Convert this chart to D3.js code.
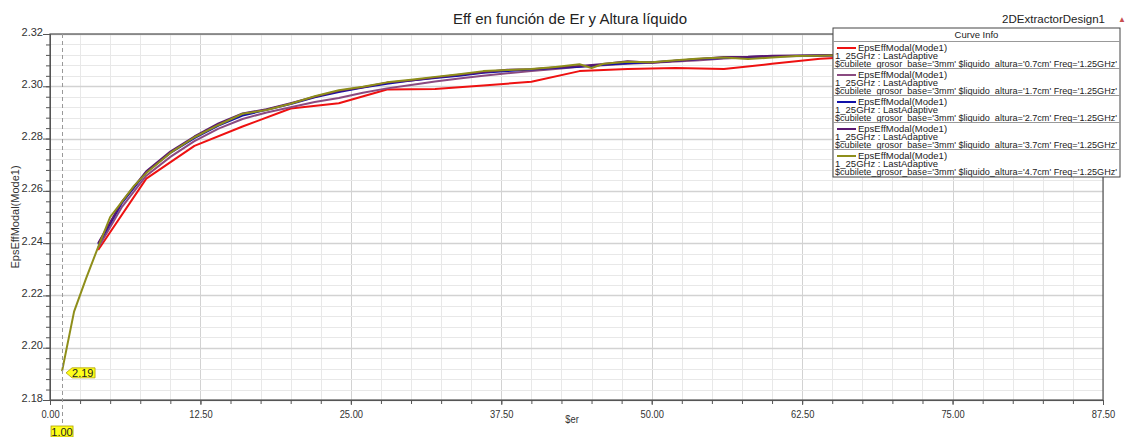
<!DOCTYPE html>
<html>
<head>
<meta charset="utf-8">
<script src="https://cdn.jsdelivr.net/npm/d3@7"></script>
<style>
  body { margin: 0; background: #fff; }
  svg { display: block; font-family: "Liberation Sans", Arial, sans-serif; }
</style>
</head>
<body>
<figure id="chart" style="margin:0"></figure>
<script>
// values
const seriesNames = ["0.7cm", "1.7cm", "2.7cm", "3.7cm", "4.7cm"];
const seriesColors = ["#ee1111", "#8a4a80", "#1010a8", "#5a1870", "#8e8e1a"];

const erRed = [4, 8, 12, 16, 20, 24, 28, 32, 36, 40, 44, 48, 52, 56, 60, 64, 68, 72, 76, 80];
const epsRed = [2.2374, 2.2647, 2.2772, 2.2846, 2.2915, 2.2935, 2.2988, 2.2990, 2.3003, 2.3017,
  2.3058, 2.3066, 2.3070, 2.3066, 2.3086, 2.3105, 2.3115, 2.3120, 2.3125, 2.3128];

const erMid = [4, 6, 8, 10, 12, 14, 16, 18, 20, 22, 24, 26, 28, 30, 32, 34, 36, 38, 40, 42,
  44, 46, 48, 50, 52, 54, 56, 58, 60, 64, 68, 72, 76, 80];
const epsMauve = [2.2382, 2.2540, 2.2658, 2.2730, 2.2790, 2.2838, 2.2875, 2.2900, 2.2920, 2.2940,
  2.2955, 2.2975, 2.2992, 2.3005, 2.3018, 2.3030, 2.3040, 2.3050, 2.3058, 2.3066,
  2.3075, 2.3080, 2.3086, 2.3090, 2.3095, 2.3100, 2.3106, 2.3110, 2.3114, 2.3117, 2.3120, 2.3123, 2.3126, 2.3128];
const epsBlue = [2.2395, 2.2555, 2.2672, 2.2745, 2.2802, 2.2850, 2.2888, 2.2910, 2.2932, 2.2958,
  2.2978, 2.2995, 2.3010, 2.3022, 2.3032, 2.3040, 2.3052, 2.3058, 2.3064, 2.3070,
  2.3075, 2.3082, 2.3088, 2.3092, 2.3098, 2.3104, 2.3108, 2.3112, 2.3115, 2.3118, 2.3121, 2.3124, 2.3127, 2.3129];
const epsPurple = [2.2400, 2.2560, 2.2675, 2.2750, 2.2808, 2.2858, 2.2896, 2.2912, 2.2935, 2.2960,
  2.2982, 2.2996, 2.3014, 2.3022, 2.3034, 2.3044, 2.3054, 2.3063, 2.3065, 2.3072,
  2.3078, 2.3085, 2.3096, 2.3090, 2.3098, 2.3104, 2.3112, 2.3113, 2.3117, 2.3119, 2.3122, 2.3125, 2.3128, 2.3130];

const erOlive = [1, 2, 3, 4, 5, 6, 7, 8, 10, 12, 14, 16, 18, 20, 22, 24, 26, 28, 30, 32, 34, 36, 38, 40,
  42, 44, 45, 46, 48, 50, 52, 54, 56, 58, 60, 62, 64, 66, 68, 72, 76, 80];
const epsOlive = [2.1910, 2.2138, 2.2265, 2.2385, 2.2500, 2.2560, 2.2620, 2.2668, 2.2745, 2.2805,
  2.2852, 2.2895, 2.2909, 2.2933, 2.2962, 2.2985, 2.2998, 2.3015, 2.3025, 2.3036, 2.3046, 2.3058,
  2.3062, 2.3066, 2.3074, 2.3084, 2.3070, 2.3086, 2.3094, 2.3092, 2.3100, 2.3106, 2.3110, 2.3104,
  2.3110, 2.3116, 2.3117, 2.3120, 2.3122, 2.3126, 2.3128, 2.3130];

const xMajorTicks = [0, 12.5, 25, 37.5, 50, 62.5, 75, 87.5];
const yMajorTicks = [2.18, 2.20, 2.22, 2.24, 2.26, 2.28, 2.30, 2.32];
const markerEr = 1.00;
const markerEps = 2.19;

const series = [
  { er: erRed, eps: epsRed },
  { er: erMid, eps: epsMauve },
  { er: erMid, eps: epsBlue },
  { er: erMid, eps: epsPurple },
  { er: erOlive, eps: epsOlive }
];

const width = 1129, height = 437;
const plotLeft = 50, plotRight = 1103, plotTop = 34, plotBottom = 400;

const svg = d3.select("figure#chart").append("svg")
  .attr("width", width).attr("height", height);

const x = d3.scaleLinear().domain([0, 87.5]).range([plotLeft, plotRight]);
const y = d3.scaleLinear().domain([2.18, 2.32]).range([plotBottom, plotTop]);

// grid
const xMinor = d3.range(0, 87.51, 2.5);
const yMinor = d3.range(0, 36).map(i => 2.18 + i * 0.004);

svg.append("g").selectAll("line").data(xMinor).enter().append("line")
  .attr("x1", d => Math.round(x(d)) + 0.5).attr("x2", d => Math.round(x(d)) + 0.5)
  .attr("y1", plotTop).attr("y2", plotBottom)
  .attr("stroke", (d, i) => i % 5 === 0 ? "#d2d2d2" : "#e8e8e8")
  .attr("stroke-width", 1);

svg.append("g").selectAll("line").data(yMinor).enter().append("line")
  .attr("x1", plotLeft).attr("x2", plotRight)
  .attr("y1", d => Math.round(y(d)) + 0.5).attr("y2", d => Math.round(y(d)) + 0.5)
  .attr("stroke", (d, i) => i % 5 === 0 ? "#d2d2d2" : "#e8e8e8")
  .attr("stroke-width", (d, i) => i % 5 === 0 ? 1.5 : 1);

// frame
svg.append("rect")
  .attr("x", plotLeft).attr("y", plotTop)
  .attr("width", plotRight - plotLeft).attr("height", plotBottom - plotTop)
  .attr("fill", "none").attr("stroke", "#555").attr("stroke-width", 1.2);

svg.append("clipPath").attr("id", "clip").append("rect")
  .attr("x", plotLeft).attr("y", plotTop).attr("width", plotRight - plotLeft).attr("height", plotBottom - plotTop);

// curves
const line = d3.line().x(d => x(d[0])).y(d => y(d[1]));
svg.append("g").attr("clip-path", "url(#clip)")
  .selectAll("path").data(series).enter().append("path")
  .attr("d", s => line(s.er.map((e, i) => [e, s.eps[i]])))
  .attr("fill", "none")
  .attr("stroke", (s, i) => seriesColors[i])
  .attr("stroke-width", 2)
  .attr("stroke-linejoin", "round");

// axes
const xAxis = svg.append("g")
  .attr("transform", "translate(0," + plotBottom + ")")
  .call(d3.axisBottom(x).tickValues(xMajorTicks).tickFormat(d3.format(".2f")).tickSize(5));
xAxis.select(".domain").attr("stroke", "#555");
xAxis.selectAll("text").attr("font-size", 11).attr("fill", "#333")
  .attr("dy", "0.9em")
  .attr("transform", "scale(0.85,1)");
svg.append("g")
  .attr("transform", "translate(0," + plotBottom + ")")
  .call(d3.axisBottom(x).tickValues(xMinor).tickFormat("").tickSize(4))
  .select(".domain").remove();

const yAxis = svg.append("g")
  .attr("transform", "translate(" + plotLeft + ",0)")
  .call(d3.axisLeft(y).tickValues(yMajorTicks).tickFormat(d3.format(".2f")).tickSize(7));
yAxis.select(".domain").attr("stroke", "#555");
yAxis.selectAll("text").attr("font-size", 11).attr("fill", "#333").attr("x", -7).attr("dy", "0.1em");
svg.append("g")
  .attr("transform", "translate(" + plotLeft + ",0)")
  .call(d3.axisLeft(y).tickValues(yMinor).tickFormat("").tickSize(4))
  .select(".domain").remove();
svg.selectAll(".tick line").attr("stroke", "#555");

svg.append("text")
  .attr("transform", "translate(572,423) scale(0.85,1)")
  .attr("text-anchor", "middle")
  .attr("font-size", 11).attr("fill", "#333")
  .text("$er");

svg.append("text")
  .attr("transform", "translate(19,217) rotate(-90)")
  .attr("text-anchor", "middle")
  .attr("font-size", 11).attr("fill", "#333")
  .text("EpsEffModal(Mode1)");

// titles
svg.append("text")
  .attr("x", 570).attr("y", 24)
  .attr("text-anchor", "middle")
  .attr("font-size", 15).attr("fill", "#222")
  .text("Eff en función de Er y Altura líquido");

svg.append("text")
  .attr("x", 1105).attr("y", 23)
  .attr("text-anchor", "end")
  .attr("font-size", 11.5).attr("fill", "#222")
  .text("2DExtractorDesign1");
svg.append("text")
  .attr("x", 1122).attr("y", 22)
  .attr("text-anchor", "middle")
  .attr("font-size", 8).attr("fill", "#c85050")
  .text("▲");

// marker at er = 1
svg.append("line")
  .attr("x1", Math.round(x(markerEr)) + 0.5).attr("x2", Math.round(x(markerEr)) + 0.5)
  .attr("y1", plotTop).attr("y2", 428)
  .attr("stroke", "#999").attr("stroke-width", 1)
  .attr("stroke-dasharray", "4,3");

const mx = x(markerEr), my = y(markerEps) - 1;
svg.append("path")
  .attr("d", "M" + (mx + 4) + "," + my + "L" + (mx + 10) + "," + (my - 5) + "L" + (mx + 33) + "," + (my - 5)
    + "L" + (mx + 33) + "," + (my + 5) + "L" + (mx + 10) + "," + (my + 5) + "Z")
  .attr("fill", "#ffff1a").attr("stroke", "#b0a000").attr("stroke-width", 0.8);
svg.append("text")
  .attr("x", mx + 10).attr("y", my + 4)
  .attr("font-size", 11).attr("fill", "#222")
  .text(markerEps.toFixed(2));

svg.append("rect")
  .attr("x", mx - 11).attr("y", 426).attr("width", 22).attr("height", 11)
  .attr("fill", "#ffff1a").attr("stroke", "#b0a000").attr("stroke-width", 0.8);
svg.append("text")
  .attr("x", mx).attr("y", 435.5)
  .attr("text-anchor", "middle")
  .attr("font-size", 11).attr("fill", "#222")
  .text(markerEr.toFixed(2));

// legend box
const lg = svg.append("g").attr("transform", "translate(833,28)");
const lgW = 287, headH = 13, rowH = 27;
lg.append("rect")
  .attr("width", lgW).attr("height", headH + rowH * 5 + 1)
  .attr("fill", "#fff").attr("stroke", "#444").attr("stroke-width", 1);
lg.append("text")
  .attr("x", lgW / 2).attr("y", 10)
  .attr("text-anchor", "middle")
  .attr("font-size", 9.5).attr("fill", "#222")
  .text("Curve Info");

const rows = lg.selectAll("g.row").data(seriesNames).enter().append("g")
  .attr("class", "row")
  .attr("transform", (d, i) => "translate(0," + (headH + i * rowH) + ")");
rows.append("line")
  .attr("x1", 0).attr("x2", lgW).attr("y1", 0.5).attr("y2", 0.5)
  .attr("stroke", "#999");
rows.append("line")
  .attr("x1", 4).attr("x2", 23).attr("y1", 7).attr("y2", 7)
  .attr("stroke", (d, i) => seriesColors[i]).attr("stroke-width", 2);
rows.append("text")
  .attr("x", 25).attr("y", 9.5)
  .attr("font-size", 9.5).attr("fill", "#222")
  .text("EpsEffModal(Mode1)");
rows.append("text")
  .attr("x", 2).attr("y", 17.5)
  .attr("font-size", 9.5).attr("fill", "#222")
  .text("1_25GHz : LastAdaptive");
rows.append("text")
  .attr("x", 2).attr("y", 25.5)
  .attr("font-size", 9.5).attr("fill", "#222")
  .attr("textLength", 282).attr("lengthAdjust", "spacingAndGlyphs")
  .text(d => "$cubilete_grosor_base='3mm' $liquido_altura='" + d + "' Freq='1.25GHz'");
</script>
</body>
</html>
